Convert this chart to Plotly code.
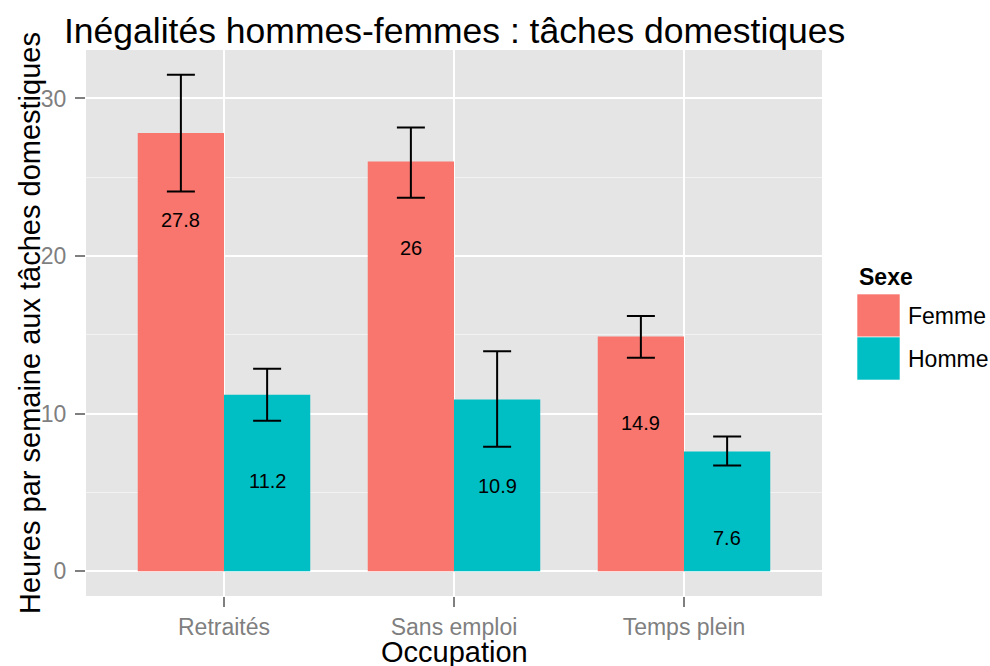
import plotly.graph_objects as go

# ---- data ----
occupations = ["Retraités", "Sans emploi", "Temps plein"]
sexes = ["Femme", "Homme"]
femme_values = [27.8, 26.0, 14.9]
homme_values = [11.2, 10.9, 7.6]
femme_lower = [24.1, 23.7, 13.55]
femme_upper = [31.5, 28.15, 16.2]
homme_lower = [9.55, 7.9, 6.7]
homme_upper = [12.85, 13.95, 8.55]
femme_labels = ["27.8", "26", "14.9"]
homme_labels = ["11.2", "10.9", "7.6"]
y_tick_values = [0, 10, 20, 30]

colors = {"Femme": "#F8766D", "Homme": "#00BFC4"}
FONT = "Liberation Sans, Arial, sans-serif"

W, H = 990, 666
L, R, T, B = 86, 168, 50, 70
PW, PH = W - L - R, H - T - B


def px_x(px):
    return (px - L) / PW


def px_y(py):
    return (H - B - py) / PH


series = [
    ("Femme", femme_values, femme_lower, femme_upper, femme_labels),
    ("Homme", homme_values, homme_lower, homme_upper, homme_labels),
]

fig = go.Figure()
for name, vals, lo, hi, _ in series:
    fig.add_trace(go.Bar(
        x=occupations, y=vals, name=name,
        marker=dict(color=colors[name], line=dict(width=0)),
        error_y=dict(type="data", symmetric=False,
                     array=[h - v for h, v in zip(hi, vals)],
                     arrayminus=[v - l for v, l in zip(vals, lo)],
                     color="black", thickness=2, width=14),
        showlegend=False,
    ))

annotations = []
# value labels inside bars
for si, (name, vals, lo, hi, labels) in enumerate(series):
    off = -0.1875 if si == 0 else 0.1875
    for i, (v, lab) in enumerate(zip(vals, labels)):
        annotations.append(dict(x=i + off, y=v - 5.5, xref="x", yref="y",
                                text=lab, showarrow=False,
                                font=dict(family=FONT, size=20, color="black")))

# title
annotations.append(dict(x=0.5, y=px_y(31), xref="paper", yref="paper",
                        text="Inégalités hommes-femmes : tâches domestiques",
                        showarrow=False, xanchor="center", yanchor="middle",
                        font=dict(family=FONT, size=35.5, color="black")))
# axis titles
annotations.append(dict(x=0.5, y=px_y(652), xref="paper", yref="paper",
                        text="Occupation", showarrow=False,
                        xanchor="center", yanchor="middle",
                        font=dict(family=FONT, size=29, color="black")))
annotations.append(dict(x=px_x(30), y=0.5, xref="paper", yref="paper",
                        text="Heures par semaine aux tâches domestiques",
                        showarrow=False, textangle=-90,
                        xanchor="center", yanchor="middle",
                        font=dict(family=FONT, size=29, color="black")))

# custom legend
annotations.append(dict(x=px_x(857), y=px_y(277), xref="paper", yref="paper",
                        text="<b>Sexe</b>", showarrow=False,
                        xanchor="left", yanchor="middle",
                        font=dict(family=FONT, size=23, color="black")))
shapes = []
key_top = 294
key_size = 43
for k, name in enumerate(sexes):
    y0 = key_top + k * key_size
    shapes.append(dict(type="rect", xref="paper", yref="paper",
                       x0=px_x(857), x1=px_x(900), y0=px_y(y0 + key_size), y1=px_y(y0),
                       fillcolor=colors[name],
                       line=dict(color="rgba(255,255,255,0.6)", width=1)))
    annotations.append(dict(x=px_x(906), y=px_y(y0 + key_size / 2), xref="paper", yref="paper",
                            text=name, showarrow=False,
                            xanchor="left", yanchor="middle",
                            font=dict(family=FONT, size=23, color="black")))

ymax = max(femme_upper + homme_upper)
ymin = 0
pad = (ymax - ymin) * 0.05

fig.update_layout(
    width=W, height=H,
    margin=dict(l=L, r=R, t=T, b=B, pad=0),
    paper_bgcolor="white", plot_bgcolor="#E5E5E5",
    barmode="group", bargap=0.25, bargroupgap=0,
    annotations=annotations, shapes=shapes,
    font=dict(family=FONT),
    xaxis=dict(
        type="category", range=[-0.6, 2.6],
        showgrid=True, gridcolor="white", gridwidth=2,
        ticks="outside", ticklen=10, tickwidth=1.5, tickcolor="#7F7F7F",
        tickfont=dict(family=FONT, size=23, color="#7F7F7F"),
        showline=False, zeroline=False, fixedrange=True,
    ),
    yaxis=dict(
        range=[ymin - pad, ymax + pad],
        tickvals=y_tick_values,
        showgrid=True, gridcolor="white", gridwidth=2,
        minor=dict(dtick=5, tick0=0, showgrid=True, gridcolor="#F2F2F2", gridwidth=1, ticks=""),
        ticks="outside", ticklen=10, tickwidth=1.5, tickcolor="#7F7F7F",
        tickfont=dict(family=FONT, size=23, color="#7F7F7F"),
        ticklabelstandoff=4,
        showline=False, zeroline=False, fixedrange=True,
    ),
)

fig.write_html("out.html",
               config={"displayModeBar": False},
               post_script="document.body.style.margin='0';document.body.style.padding='0';")
